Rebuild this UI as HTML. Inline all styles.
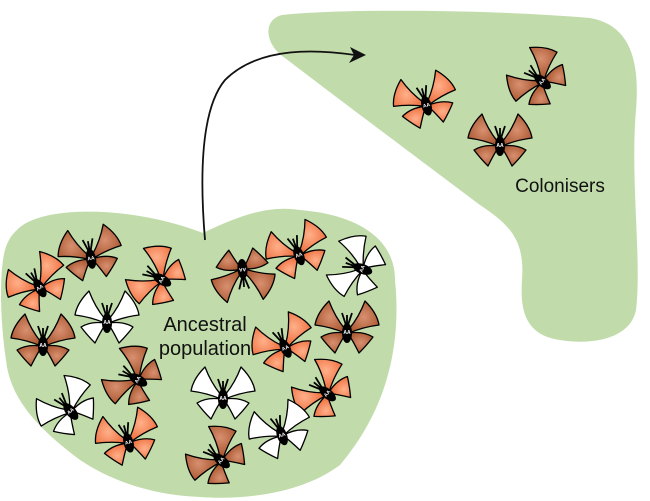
<!DOCTYPE html>
<html><head><meta charset="utf-8"><style>
html,body{margin:0;padding:0;background:#fff;}
svg{display:block;}
text{font-family:"Liberation Sans",sans-serif;}
</style></head><body>
<svg width="650" height="501" viewBox="0 0 650 501" xmlns="http://www.w3.org/2000/svg">
<defs>
<radialGradient id="go" cx="0.5" cy="0.5" r="0.6"><stop offset="0" stop-color="#ffb08a"/><stop offset="1" stop-color="#ee6e3e"/></radialGradient>
<radialGradient id="gb" cx="0.5" cy="0.5" r="0.6"><stop offset="0" stop-color="#d89070"/><stop offset="1" stop-color="#a8552e"/></radialGradient>
<g id="wings" stroke="#000" stroke-width="1.3" stroke-linejoin="round">
<path d="M-2,2 Q-12,-10 -18,-26 Q-30,-14 -32,-2 Q-16,0 -2,6Z"/>
<path d="M2,2 Q12,-10 18,-26 Q30,-14 32,-2 Q16,0 2,6Z"/>
<path d="M-2,6 Q-16,4 -26,10 Q-20,18 -12,26 Q-6,14 -2,8Z"/>
<path d="M2,6 Q16,4 26,10 Q20,18 12,26 Q6,14 2,8Z"/>
</g>
<g id="body">
<path d="M-1,-2 L-5,-14 M1,-2 L5,-14 M0,-2 L0,-12" stroke="#000" stroke-width="1.8" fill="none"/>
<ellipse cx="0" cy="6" rx="5" ry="10" fill="#000"/>
<text x="0" y="7" font-size="5" fill="#fff" text-anchor="middle" font-weight="bold">AA</text>
</g>
<g id="O"><use href="#wings" fill="url(#go)"/><use href="#body"/></g>
<g id="B"><use href="#wings" fill="url(#gb)"/><use href="#body"/></g>
<g id="W"><use href="#wings" fill="#fff"/><use href="#body"/></g>
</defs>
<path d="M17,230 C40,205 130,205 203,233 C240,215 270,205 300,210 C360,215 395,240 395,280 C400,330 395,400 340,465 C300,495 240,500 200,497 C150,495 110,480 80,460 C40,430 10,400 6,360 C0,320 0,280 3,260 C5,245 10,236 17,230Z" fill="#c1dcaa"/>
<path d="M282,15 C350,8 500,10 590,18 C630,25 640,60 636,110 C630,180 642,260 636,310 C630,340 590,345 560,340 C525,335 520,310 522,280 C525,240 510,225 480,205 C420,160 340,100 285,58 C265,45 262,20 282,15Z" fill="#c1dcaa"/>
<path d="M205,240 C200,180 200,110 225,80 C260,45 320,50 355,55" stroke="#111" stroke-width="1.8" fill="none"/>
<path d="M366,55 L350,47 L354,55 L349,63Z" fill="#111"/>
<use href="#O" transform="translate(425,100) rotate(-15)"/>
<use href="#B" transform="translate(538,78) rotate(-50)"/>
<use href="#B" transform="translate(500,140)"/>
<use href="#B" transform="translate(90,253) rotate(-10)"/>
<use href="#O" transform="translate(37,283) rotate(-30)"/>
<use href="#O" transform="translate(157,277) rotate(-60)"/>
<use href="#B" transform="translate(243,275) rotate(175)"/>
<use href="#O" transform="translate(297,250) rotate(-20)"/>
<use href="#W" transform="translate(357,267) rotate(-70)"/>
<use href="#W" transform="translate(107,317)"/>
<use href="#B" transform="translate(43,340)"/>
<use href="#B" transform="translate(347,327)"/>
<use href="#O" transform="translate(283,343) rotate(-25)"/>
<use href="#B" transform="translate(133,377) rotate(-60)"/>
<use href="#W" transform="translate(223,393)"/>
<use href="#O" transform="translate(323,390) rotate(-50)"/>
<use href="#W" transform="translate(67,407) rotate(-40)"/>
<use href="#W" transform="translate(280,430) rotate(-20)"/>
<use href="#O" transform="translate(127,437) rotate(-15)"/>
<use href="#B" transform="translate(217,457) rotate(-50)"/>
<text x="205" y="331" font-size="20" text-anchor="middle" fill="#111">Ancestral</text>
<text x="205" y="355" font-size="20" text-anchor="middle" fill="#111">population</text>
<text x="560" y="192" font-size="19" text-anchor="middle" fill="#111">Colonisers</text>
</svg>
</body></html>
